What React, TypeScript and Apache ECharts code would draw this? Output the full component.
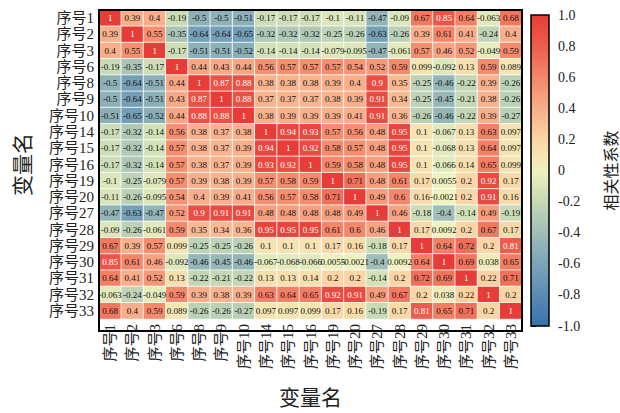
import React, { useEffect, useRef } from "react";
import * as echarts from "echarts";

// Variable names (same order on both axes)
const variables = [
  "序号1", "序号2", "序号3", "序号6", "序号8", "序号9", "序号10", "序号14", "序号15", "序号16",
  "序号19", "序号20", "序号27", "序号28", "序号29", "序号30", "序号31", "序号32", "序号33",
];

// Correlation matrix, one row per variable
const r1 = [1, 0.39, 0.4, -0.19, -0.5, -0.5, -0.51, -0.17, -0.17, -0.17, -0.1, -0.11, -0.47, -0.09, 0.67, 0.85, 0.64, -0.063, 0.68];
const r2 = [0.39, 1, 0.55, -0.35, -0.64, -0.64, -0.65, -0.32, -0.32, -0.32, -0.25, -0.26, -0.63, -0.26, 0.39, 0.61, 0.41, -0.24, 0.4];
const r3 = [0.4, 0.55, 1, -0.17, -0.51, -0.51, -0.52, -0.14, -0.14, -0.14, -0.079, -0.095, -0.47, -0.061, 0.57, 0.46, 0.52, -0.049, 0.59];
const r6 = [-0.19, -0.35, -0.17, 1, 0.44, 0.43, 0.44, 0.56, 0.57, 0.57, 0.57, 0.54, 0.52, 0.59, 0.099, -0.092, 0.13, 0.59, 0.089];
const r8 = [-0.5, -0.64, -0.51, 0.44, 1, 0.87, 0.88, 0.38, 0.38, 0.38, 0.39, 0.4, 0.9, 0.35, -0.25, -0.46, -0.22, 0.39, -0.26];
const r9 = [-0.5, -0.64, -0.51, 0.43, 0.87, 1, 0.88, 0.37, 0.37, 0.37, 0.38, 0.39, 0.91, 0.34, -0.25, -0.45, -0.21, 0.38, -0.26];
const r10 = [-0.51, -0.65, -0.52, 0.44, 0.88, 0.88, 1, 0.38, 0.39, 0.39, 0.39, 0.41, 0.91, 0.36, -0.26, -0.46, -0.22, 0.39, -0.27];
const r14 = [-0.17, -0.32, -0.14, 0.56, 0.38, 0.37, 0.38, 1, 0.94, 0.93, 0.57, 0.56, 0.48, 0.95, 0.1, -0.067, 0.13, 0.63, 0.097];
const r15 = [-0.17, -0.32, -0.14, 0.57, 0.38, 0.37, 0.39, 0.94, 1, 0.92, 0.58, 0.57, 0.48, 0.95, 0.1, -0.068, 0.13, 0.64, 0.097];
const r16 = [-0.17, -0.32, -0.14, 0.57, 0.38, 0.37, 0.39, 0.93, 0.92, 1, 0.59, 0.58, 0.48, 0.95, 0.1, -0.066, 0.14, 0.65, 0.099];
const r19 = [-0.1, -0.25, -0.079, 0.57, 0.39, 0.38, 0.39, 0.57, 0.58, 0.59, 1, 0.71, 0.48, 0.61, 0.17, 0.0055, 0.2, 0.92, 0.17];
const r20 = [-0.11, -0.26, -0.095, 0.54, 0.4, 0.39, 0.41, 0.56, 0.57, 0.58, 0.71, 1, 0.49, 0.6, 0.16, -0.0021, 0.2, 0.91, 0.16];
const r27 = [-0.47, -0.63, -0.47, 0.52, 0.9, 0.91, 0.91, 0.48, 0.48, 0.48, 0.48, 0.49, 1, 0.46, -0.18, -0.4, -0.14, 0.49, -0.19];
const r28 = [-0.09, -0.26, -0.061, 0.59, 0.35, 0.34, 0.36, 0.95, 0.95, 0.95, 0.61, 0.6, 0.46, 1, 0.17, 0.0092, 0.2, 0.67, 0.17];
const r29 = [0.67, 0.39, 0.57, 0.099, -0.25, -0.25, -0.26, 0.1, 0.1, 0.1, 0.17, 0.16, -0.18, 0.17, 1, 0.64, 0.72, 0.2, 0.81];
const r30 = [0.85, 0.61, 0.46, -0.092, -0.46, -0.45, -0.46, -0.067, -0.068, -0.066, 0.0055, -0.0021, -0.4, 0.0092, 0.64, 1, 0.69, 0.038, 0.65];
const r31 = [0.64, 0.41, 0.52, 0.13, -0.22, -0.21, -0.22, 0.13, 0.13, 0.14, 0.2, 0.2, -0.14, 0.2, 0.72, 0.69, 1, 0.22, 0.71];
const r32 = [-0.063, -0.24, -0.049, 0.59, 0.39, 0.38, 0.39, 0.63, 0.64, 0.65, 0.92, 0.91, 0.49, 0.67, 0.2, 0.038, 0.22, 1, 0.2];
const r33 = [0.68, 0.4, 0.59, 0.089, -0.26, -0.26, -0.27, 0.097, 0.097, 0.099, 0.17, 0.16, -0.19, 0.17, 0.81, 0.65, 0.71, 0.2, 1];

const matrix = [r1, r2, r3, r6, r8, r9, r10, r14, r15, r16, r19, r20, r27, r28, r29, r30, r31, r32, r33];

// Colour-bar tick values
const barTicks = [-1, -0.8, -0.6, -0.4, -0.2, 0, 0.2, 0.4, 0.6, 0.8, 1];

// Diverging palette from -1 (blue) to 1 (red)
const palette = [
  "#3a71ad", "#5b8bb4", "#7ba4b8", "#a0beb7", "#c7d9b5", "#eef2bf",
  "#fbd5a5", "#f8ae8b", "#f4876a", "#ee5e4d", "#e73c37",
];

const FONT = "'Liberation Serif', 'Noto Sans CJK SC', serif";

// Layout of the matrix and colour bar
const G = { left: 99, top: 10, width: 423, height: 321 };
const CB = { left: 531, top: 15, width: 18, height: 311 };

export default function App() {
  const ref = useRef<HTMLDivElement>(null);

  useEffect(() => {
    if (!ref.current) return;
    const chart = echarts.init(ref.current, undefined, { renderer: "svg" });

    const data: any[] = [];
    matrix.forEach((row, i) => {
      row.forEach((v, j) => {
        data.push({
          value: [j, i, v],
          label: { color: v >= 0.75 ? "#ffffff" : "#111111" },
        });
      });
    });

    const gradientStops = palette
      .map((c, k) => ({ offset: 1 - k / (palette.length - 1), color: c }))
      .reverse();

    chart.setOption({
      animation: false,
      backgroundColor: "#ffffff",
      textStyle: { fontFamily: FONT },
      grid: [
        { ...G, containLabel: false },
        { ...CB, containLabel: false },
      ],
      xAxis: [
        {
          type: "category",
          gridIndex: 0,
          data: variables,
          axisLine: { show: false },
          axisTick: { show: false },
          axisLabel: { interval: 0, rotate: 90, fontSize: 15, color: "#222", margin: 5, fontFamily: FONT },
          splitLine: { show: false },
          name: "变量名",
          nameLocation: "middle",
          nameGap: 68,
          nameTextStyle: { fontSize: 21, color: "#222", fontFamily: FONT },
        },
        { type: "value", gridIndex: 1, show: false, min: 0, max: 1 },
      ],
      yAxis: [
        {
          type: "category",
          gridIndex: 0,
          data: variables,
          inverse: true,
          axisLine: { show: false },
          axisTick: { show: false },
          axisLabel: { interval: 0, fontSize: 15, color: "#222", margin: 5, fontFamily: FONT },
          splitLine: { show: false },
          name: "变量名",
          nameLocation: "middle",
          nameRotate: 90,
          nameGap: 66,
          nameTextStyle: { fontSize: 21, color: "#222", fontFamily: FONT },
        },
        {
          type: "value",
          gridIndex: 1,
          position: "right",
          min: -1,
          max: 1,
          interval: 0.2,
          axisLine: { show: false },
          axisTick: { show: true, length: 5, lineStyle: { color: "#000", width: 1 } },
          splitLine: { show: false },
          axisLabel: {
            fontSize: 14,
            color: "#222",
            margin: 9,
            fontFamily: FONT,
            formatter: (v: number) => {
              if (Math.abs(v) < 1e-9) return "0";
              if (Math.abs(Math.abs(v) - 1) < 1e-9) return v > 0 ? "1.0" : "-1.0";
              return v.toFixed(1);
            },
          },
          name: "相关性系数",
          nameLocation: "middle",
          nameRotate: 90,
          nameGap: 54,
          nameTextStyle: { fontSize: 16, color: "#222", fontFamily: FONT },
        },
      ],
      visualMap: {
        show: false,
        type: "continuous",
        min: barTicks[0],
        max: barTicks[barTicks.length - 1],
        seriesIndex: 0,
        dimension: 2,
        inRange: { color: palette },
      },
      series: [
        {
          type: "heatmap",
          xAxisIndex: 0,
          yAxisIndex: 0,
          data,
          itemStyle: { borderColor: "#ffffff", borderWidth: 0.8 },
          label: {
            show: true,
            fontSize: 9,
            fontFamily: FONT,
            formatter: (p: any) => String(p.value[2]),
          },
          emphasis: { disabled: true },
        },
      ],
      graphic: [
        {
          type: "rect",
          shape: { x: G.left, y: G.top, width: G.width, height: G.height },
          style: { fill: "none", stroke: "#000", lineWidth: 2 },
          z: 100,
          silent: true,
        },
        {
          type: "rect",
          shape: { x: CB.left, y: CB.top, width: CB.width, height: CB.height },
          style: {
            fill: new echarts.graphic.LinearGradient(0, 0, 0, 1, gradientStops),
            stroke: "#000",
            lineWidth: 1.5,
          },
          z: 100,
          silent: true,
        },
      ],
    });

    return () => chart.dispose();
  }, []);

  return (
    <div
      ref={ref}
      style={{ position: "fixed", left: 0, top: 0, width: 620, height: 413, background: "#fff" }}
    />
  );
}
